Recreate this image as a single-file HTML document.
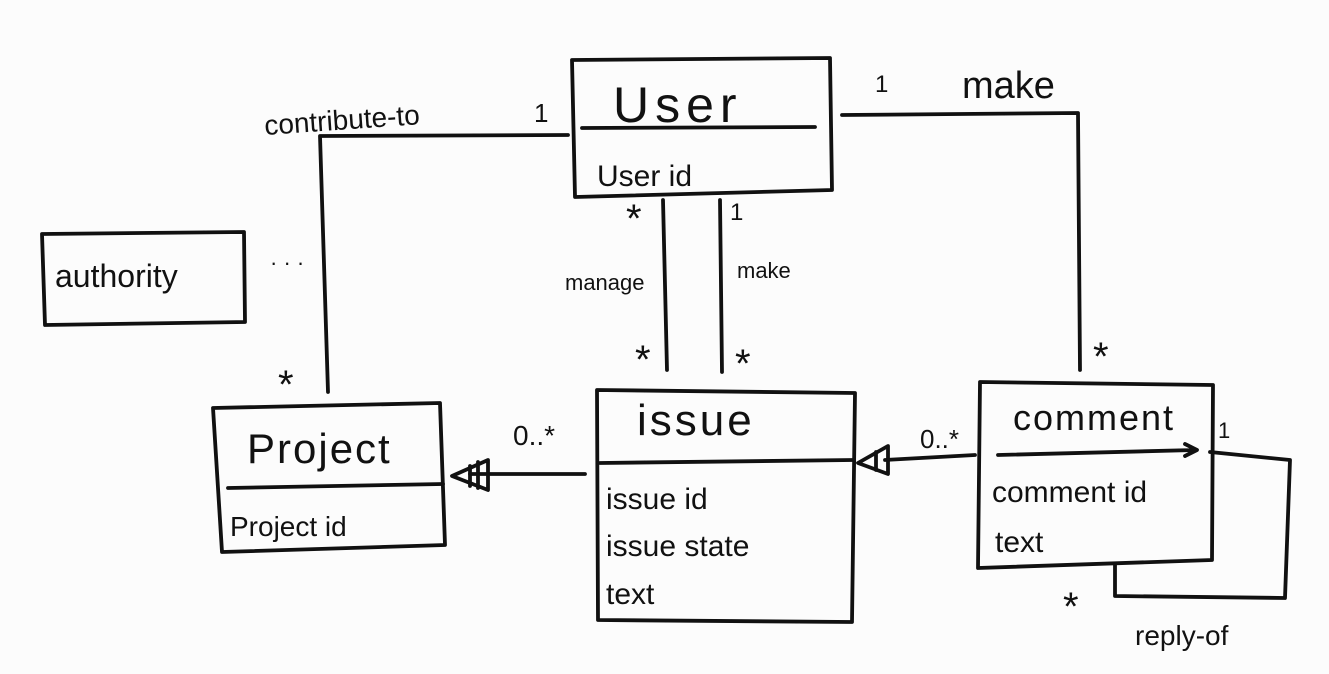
<!DOCTYPE html>
<html><head><meta charset="utf-8"><style>
html,body{margin:0;padding:0;background:#fcfcfc;}
svg{display:block}
text{font-family:"Liberation Sans",sans-serif;fill:#111;}
</style></head><body>
<svg width="1329" height="674" viewBox="0 0 1329 674" xmlns="http://www.w3.org/2000/svg">
<rect width="1329" height="674" fill="#fcfcfc"/>
<g stroke="#111" stroke-width="3.8" fill="none" stroke-linecap="round" stroke-linejoin="round">
  <path d="M572 60 L830 58 L832 190 L575 197 Z"/>
  <path d="M582 128 L815 127"/>
  <path d="M42 234 L244 232 L245 322 L45 325 Z"/>
  <path d="M213 408 L440 403 L445 545 L222 552 Z"/>
  <path d="M228 488 L443 484"/>
  <path d="M597 390 L855 393 L852 622 L598 620 Z"/>
  <path d="M600 463 L853 460"/>
  <path d="M980 382 L1213 385 L1212 560 L978 568 Z"/>
  <path d="M998 455 L1195 450 M1185 444 L1197 450 L1185 456"/>
  <path d="M568 135 L320 136 L328 392"/>
  <path d="M842 115 L1078 113 L1080 370"/>
  <path d="M663 200 L667 370"/>
  <path d="M720 200 L722 372"/>
  <path d="M585 474 L470 474"/>
  <path d="M488 460 L452 476 L488 490 Z"/>
  <path d="M470 466 L470 486 M478 462 L478 488"/>
  <path d="M975 455 L885 460"/>
  <path d="M888 446 L858 463 L888 474 Z"/>
  <path d="M876 452 L876 470"/>
  <path d="M1210 452 L1290 460 L1285 598 L1115 596 L1115 565"/>
</g>
<text x="613" y="122" font-size="50" letter-spacing="6">User</text>
<text x="597" y="186" font-size="30">User id</text>
<text x="55" y="287" font-size="32">authority</text>
<text x="270" y="270" font-size="22">· · ·</text>
<text x="247" y="463" font-size="42" letter-spacing="2">Project</text>
<text x="230" y="536" font-size="28">Project id</text>
<text x="637" y="435" font-size="44" letter-spacing="3">issue</text>
<text x="606" y="509" font-size="30">issue id</text>
<text x="606" y="556" font-size="30">issue state</text>
<text x="606" y="604" font-size="30">text</text>
<text x="1013" y="430" font-size="36" letter-spacing="2">comment</text>
<text x="992" y="502" font-size="30">comment id</text>
<text x="995" y="552" font-size="30">text</text>
<text x="265" y="135" font-size="28" transform="rotate(-4 265 135)">contribute-to</text>
<text x="534" y="122" font-size="26">1</text>
<text x="278" y="398" font-size="40">*</text>
<text x="875" y="92" font-size="24">1</text>
<text x="962" y="98" font-size="38">make</text>
<text x="1093" y="370" font-size="40">*</text>
<text x="626" y="232" font-size="40">*</text>
<text x="730" y="220" font-size="24">1</text>
<text x="565" y="290" font-size="22">manage</text>
<text x="737" y="278" font-size="22">make</text>
<text x="635" y="373" font-size="40">*</text>
<text x="735" y="377" font-size="40">*</text>
<text x="513" y="445" font-size="28">0..*</text>
<text x="920" y="448" font-size="26">0..*</text>
<text x="1218" y="438" font-size="22">1</text>
<text x="1063" y="620" font-size="40">*</text>
<text x="1135" y="645" font-size="28">reply-of</text>
</svg>
</body></html>
